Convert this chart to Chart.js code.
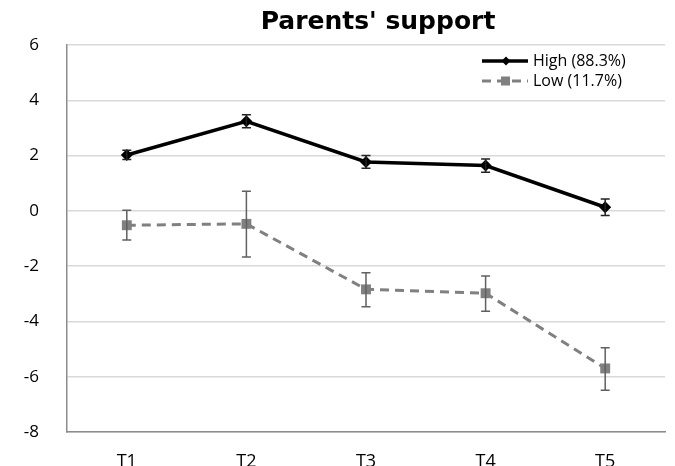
<!DOCTYPE html>
<html>
<head>
<meta charset="utf-8">
<script src="https://cdn.jsdelivr.net/npm/chart.js@4/dist/chart.umd.min.js"></script>
<style>
    html, body { margin: 0; padding: 0; background: #fff; }
    #wrap { width: 675px; height: 466px; }
</style>
</head>
<body>
<div id="wrap"><canvas id="supportChart"></canvas></div>
<script>
// values
var categories = ['T1', 'T2', 'T3', 'T4', 'T5'];
var yTicks = [-8, -6, -4, -2, 0, 2, 4, 6];

var highLabel = 'High (88.3%)';
var highMeans = [2.02, 3.24, 1.77, 1.64, 0.13];
var highUpper = [2.19, 3.48, 2.00, 1.88, 0.43];
var highLower = [1.86, 3.01, 1.54, 1.40, -0.17];

var lowLabel = 'Low (11.7%)';
var lowMeans = [-0.52, -0.47, -2.84, -2.98, -5.70];
var lowUpper = [0.02, 0.71, -2.24, -2.36, -4.95];
var lowLower = [-1.05, -1.67, -3.47, -3.63, -6.49];

var fontFamily = "'Open Sans', 'DejaVu Sans', sans-serif";

// error bars with caps
var errorBars = {
    id: 'errorBars',
    afterDatasetsDraw: function(chart) {
        var ctx = chart.ctx;
        var xs = chart.scales.x;
        var ys = chart.scales.y;
        chart.data.datasets.forEach(function(ds) {
            ctx.save();
            ctx.strokeStyle = ds.errColor;
            ctx.lineWidth = 1.5;
            for (var i = 0; i < ds.data.length; i++) {
                var x = xs.getPixelForValue(i);
                var yTop = ys.getPixelForValue(ds.upper[i]);
                var yBot = ys.getPixelForValue(ds.lower[i]);
                ctx.beginPath();
                ctx.moveTo(x, yTop); ctx.lineTo(x, yBot);
                ctx.moveTo(x - 4.5, yTop); ctx.lineTo(x + 4.5, yTop);
                ctx.moveTo(x - 4.5, yBot); ctx.lineTo(x + 4.5, yBot);
                ctx.stroke();
            }
            ctx.restore();
        });
    }
};

// legend inside the plot, top right, with line + marker samples
var innerLegend = {
    id: 'innerLegend',
    afterLayout: function(chart) {
        // title sits a little right of the plot centre in the original
        if (chart.titleBlock) chart.titleBlock.left += 24;
    },
    afterDraw: function(chart) {
        var ctx = chart.ctx;
        var area = chart.chartArea;
        var x0 = area.right - 183;
        var y0 = area.top + 16;
        chart.data.datasets.forEach(function(ds, k) {
            var y = y0 + k * 20;
            ctx.save();
            ctx.strokeStyle = ds.borderColor;
            ctx.lineWidth = ds.borderWidth;
            ctx.setLineDash(ds.borderDash || []);
            ctx.beginPath();
            ctx.moveTo(x0, y); ctx.lineTo(x0 + 46, y);
            ctx.stroke();
            ctx.setLineDash([]);
            ctx.fillStyle = ds.pointBackgroundColor;
            ctx.beginPath();
            if (ds.pointStyle === 'rectRot') {
                ctx.moveTo(x0 + 24, y - 4.5); ctx.lineTo(x0 + 28.5, y);
                ctx.lineTo(x0 + 24, y + 4.5); ctx.lineTo(x0 + 19.5, y);
                ctx.closePath();
            } else {
                ctx.rect(x0 + 19, y - 4.5, 9, 9);
            }
            ctx.fill();
            ctx.fillStyle = '#000';
            ctx.font = '16px ' + fontFamily;
            ctx.textBaseline = 'middle';
            ctx.fillText(ds.label, x0 + 51, y);
            ctx.restore();
        });
    }
};

var ctx = document.getElementById('supportChart').getContext('2d');
var supportChart = new Chart(ctx, {
    type: 'line',
    data: {
        labels: categories,
        datasets: [{
            label: highLabel,
            data: highMeans,
            upper: highUpper,
            lower: highLower,
            errColor: '#222',
            borderColor: '#000',
            borderWidth: 3.5,
            pointStyle: 'rectRot',
            pointRadius: 6,
            pointBackgroundColor: '#000',
            pointBorderColor: '#000',
            pointBorderWidth: 0,
            tension: 0
        }, {
            label: lowLabel,
            data: lowMeans,
            upper: lowUpper,
            lower: lowLower,
            errColor: '#606060',
            borderColor: '#808080',
            borderWidth: 3,
            borderDash: [9, 6],
            pointStyle: 'rect',
            pointRadius: 7,
            pointBackgroundColor: '#808080',
            pointBorderColor: '#808080',
            pointBorderWidth: 0,
            tension: 0
        }]
    },
    options: {
        responsive: true,
        maintainAspectRatio: false,
        animation: false,
        layout: { padding: { left: 0, right: 10, top: 0, bottom: 0 } },
        plugins: {
            legend: { display: false },
            tooltip: { enabled: false },
            title: {
                display: true,
                text: "Parents' support",
                color: '#000',
                fullSize: false,
                font: { family: "'DejaVu Sans', sans-serif", size: 25, weight: 'bold' },
                padding: { top: 7, bottom: 8 }
            }
        },
        scales: {
            x: {
                offset: true,
                grid: { display: false, drawTicks: false },
                border: { display: true, color: '#8c8c8c', width: 1.5 },
                ticks: {
                    color: '#000',
                    font: { family: fontFamily, size: 18 },
                    padding: 19,
                    maxRotation: 0
                },
                afterFit: function(scale) { scale.height = 34; }
            },
            y: {
                min: -8,
                max: 6,
                afterBuildTicks: function(scale) {
                    scale.ticks = yTicks.map(function(v) { return { value: v }; });
                },
                grid: { color: '#d9d9d9', lineWidth: 1.5, drawTicks: false },
                border: { display: true, color: '#8c8c8c', width: 1.5 },
                ticks: {
                    color: '#000',
                    font: { family: fontFamily, size: 17 },
                    padding: 28
                },
                afterFit: function(scale) {
                    scale.width = 67;
                    scale.paddingTop = 10;
                    scale.paddingBottom = 10;
                }
            }
        }
    },
    plugins: [errorBars, innerLegend]
});
</script>
</body>
</html>
